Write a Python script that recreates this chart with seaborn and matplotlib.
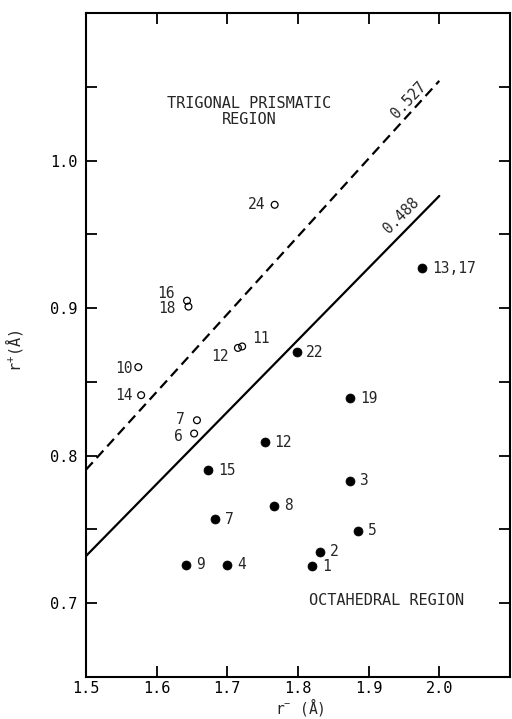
import numpy as np
import pandas as pd
import matplotlib
matplotlib.use("Agg")
import matplotlib.pyplot as plt
import seaborn as sns
from matplotlib.ticker import MultipleLocator, FixedLocator

# octahedral compounds (filled circles)
oct_labels = ["13,17", "22", "19", "12", "15", "3", "8", "7", "5", "2", "1", "9", "4"]
oct_r_minus = [1.976, 1.798, 1.874, 1.753, 1.673, 1.873, 1.766, 1.683, 1.885, 1.831, 1.820, 1.642, 1.700]
oct_r_plus = [0.927, 0.870, 0.839, 0.809, 0.790, 0.783, 0.766, 0.757, 0.749, 0.735, 0.725, 0.726, 0.726]

# trigonal prismatic compounds (open circles)
tp_labels = ["24", "16", "18", "12", "11", "10", "14", "7", "6"]
tp_r_minus = [1.767, 1.643, 1.645, 1.715, 1.721, 1.574, 1.578, 1.657, 1.653]
tp_r_plus = [0.970, 0.905, 0.901, 0.873, 0.874, 0.860, 0.841, 0.824, 0.815]

# radius ratio boundaries r+/r-
ratios = [0.527, 0.488]
ratio_x = [1.5, 2.0]

x_ticks = [1.5, 1.6, 1.7, 1.8, 1.9, 2.0]
x_ticklabels = ["1.5", "1.6", "1.7", "1.8", "1.9", "2.0"]
y_ticks = [0.7, 0.8, 0.9, 1.0]
y_ticklabels = ["0.7", "0.8", "0.9", "1.0"]

# label offsets in points (dx, dy, ha)
tp_offsets = {
    "24": (-7, 0, "right"), "16": (-9, 5, "right"), "18": (-9, -1.5, "right"),
    "12": (-7, -6, "right"), "11": (7, 6, "left"), "10": (-4, -1, "right"),
    "14": (-6, -0.5, "right"), "7": (-9, 0.5, "right"), "6": (-8, -2.5, "right"),
}

sns.set_style("ticks")
plt.rcParams["font.family"] = ["DejaVu Sans Mono", "DejaVu Sans"]
plt.rcParams["mathtext.default"] = "regular"

fig = plt.figure(figsize=(5.12, 7.19), dpi=100)
ax = fig.add_axes([0.168, 0.0584, 0.828, 0.9236])

oct_df = pd.DataFrame({"r_minus": oct_r_minus, "r_plus": oct_r_plus})
tp_df = pd.DataFrame({"r_minus": tp_r_minus, "r_plus": tp_r_plus})

lines = []
for ratio in ratios:
    for xv in ratio_x:
        lines.append({"ratio": str(ratio), "x": xv, "y": ratio * xv})
lines_df = pd.DataFrame(lines)

sns.lineplot(data=lines_df[lines_df["ratio"] == "0.527"], x="x", y="y", ax=ax,
             color="black", linewidth=1.6, dashes=[(4.5, 2.6)], style="ratio",
             legend=False)
sns.lineplot(data=lines_df[lines_df["ratio"] == "0.488"], x="x", y="y", ax=ax,
             color="black", linewidth=1.6, legend=False)

sns.scatterplot(data=oct_df, x="r_minus", y="r_plus", ax=ax, color="black",
                s=42, edgecolor="black", linewidth=0.5, zorder=3)
sns.scatterplot(data=tp_df, x="r_minus", y="r_plus", ax=ax, facecolor="none",
                s=24, edgecolor="black", linewidth=0.9, zorder=3)

for lab, xv, yv in zip(oct_labels, oct_r_minus, oct_r_plus):
    ax.annotate(lab, (xv, yv), xytext=(7, 0), textcoords="offset points",
                ha="left", va="center", fontsize=10.5)
for lab, xv, yv in zip(tp_labels, tp_r_minus, tp_r_plus):
    dx, dy, ha = tp_offsets[lab]
    ax.annotate(lab, (xv, yv), xytext=(dx, dy), textcoords="offset points",
                ha=ha, va="center", fontsize=10.5)

# ratio labels along the lines
for ratio, xm, up, rot in [(0.527, 1.956, 11, 47), (0.488, 1.946, 14, 45)]:
    ax.annotate(f"{ratio:.3f}", (xm, ratio * xm), xytext=(0, up),
                textcoords="offset points", ha="center", va="center",
                rotation=rot, fontsize=10.5)

ax.text(1.731, 1.033, "TRIGONAL PRISMATIC\nREGION", ha="center", va="center",
        fontsize=11, linespacing=1.1)
ax.text(1.925, 0.702, "OCTAHEDRAL REGION", ha="center", va="center", fontsize=11)

ax.set_xlim(1.5, 2.1)
ax.set_ylim(0.65, 1.1)
ax.xaxis.set_major_locator(FixedLocator(x_ticks))
ax.set_xticklabels(x_ticklabels)
ax.yaxis.set_major_locator(FixedLocator(y_ticks))
ax.set_yticklabels(y_ticklabels)
ax.yaxis.set_minor_locator(FixedLocator([0.75, 0.85, 0.95, 1.05]))

ax.tick_params(which="both", direction="in", top=True, right=True, length=8,
               width=1.3, labelsize=11, colors="black")
ax.tick_params(axis="x", pad=3)
ax.tick_params(axis="y", pad=6)
for sp in ax.spines.values():
    sp.set_visible(True)
    sp.set_linewidth(1.5)
    sp.set_color("black")

ax.set_xlabel("r$^{-}$ (Å)", fontsize=10.5)
ax.set_ylabel("r$^{+}$(Å)", fontsize=11)
ax.xaxis.set_label_coords(0.505, -0.029)
ax.yaxis.set_label_coords(-0.144, 0.492)

fig.savefig("out.png", dpi=100)
